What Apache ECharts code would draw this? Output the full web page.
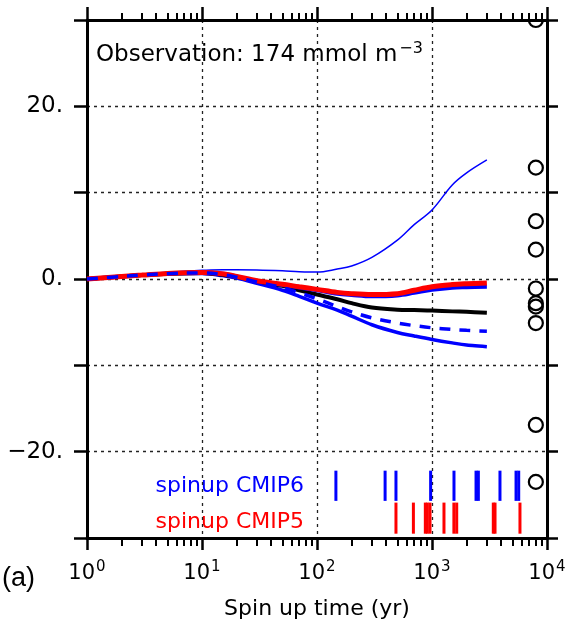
<!DOCTYPE html>
<html>
<head>
<meta charset="utf-8">
<script src="https://cdn.jsdelivr.net/npm/echarts@6/dist/echarts.min.js"></script>
<style>html,body{margin:0;padding:0;background:#fff}#c{width:569px;height:619px}</style>
</head>
<body>
<div id="c"></div>
<script>
// ---- data ----
const years = [1, 2, 3, 5, 10, 15, 20, 30, 50, 70, 100, 150, 200, 300, 500, 700, 1000, 1500, 2000, 3000];
const thinBlue   = [0, 0.3, 0.5, 0.75, 1.0, 1.07, 1.08, 1.05, 0.95, 0.85, 0.8, 1.15, 1.5, 2.5, 4.5, 6.3, 8.0, 10.9, 12.3, 13.8];
const redThick   = [0, 0.3, 0.45, 0.65, 0.75, 0.6, 0.3, -0.2, -0.6, -0.9, -1.2, -1.55, -1.7, -1.8, -1.7, -1.3, -0.9, -0.65, -0.55, -0.45];
const blueUpper  = [0, 0.3, 0.45, 0.65, 0.75, 0.6, 0.3, -0.25, -0.7, -1.0, -1.3, -1.7, -1.85, -2.0, -1.9, -1.6, -1.25, -1.0, -0.95, -0.9];
const blackMean  = [0, 0.3, 0.45, 0.62, 0.7, 0.5, 0.25, -0.25, -0.8, -1.3, -1.8, -2.35, -2.8, -3.3, -3.55, -3.6, -3.65, -3.75, -3.8, -3.9];
const blueDashed = [0, 0.3, 0.45, 0.62, 0.7, 0.5, 0.2, -0.35, -1.0, -1.6, -2.3, -3.2, -3.8, -4.5, -5.1, -5.4, -5.65, -5.85, -5.95, -6.05];
const blueLower  = [0, 0.3, 0.45, 0.6, 0.65, 0.4, 0.1, -0.5, -1.3, -2.0, -2.8, -3.6, -4.3, -5.3, -6.2, -6.6, -7.0, -7.4, -7.65, -7.85];
const obsYear = 8000;
const obsValues = [30, 12.9, 6.7, 3.4, -1.1, -2.8, -3.2, -5.1, -16.9, -23.5];
const spinupCMIP6 = [146, 391, 486, 973, 1553, 2415, 2530, 3900, 5380, 5675];
const spinupCMIP5 = [486, 689, 875, 911, 961, 1271, 1550, 1640, 3412, 3532, 5820];
const bandCMIP6 = [-22.2, -25.7];
const bandCMIP5 = [-25.9, -29.5];
const yTickLabels = { '20': '20.', '0': '0.', '-20': '\u221220.' };
const Y_MIN = -30, Y_MAX = 30;

const pairs = arr => years.map((x, i) => [x, arr[i]]);
const FONT = 'DejaVu Sans';

function bars(list, band, color) {
  return {
    type: 'custom', xAxisIndex: 0, yAxisIndex: 0, z: 5,
    data: list.map(v => [v]),
    renderItem: (params, api) => {
      const x = api.value(0);
      const p0 = api.coord([x, band[0]]);
      const p1 = api.coord([x, band[1]]);
      return { type: 'rect', shape: { x: p0[0] - 1.5, y: p0[1], width: 3, height: p1[1] - p0[1] },
               style: { fill: color } };
    }
  };
}

function logAxis(pos, opts) {
  return Object.assign({
    type: 'log', logBase: 10, min: 1, max: 10000, position: pos,
    axisLine: { show: true, onZero: false, lineStyle: { color: '#000', width: 3 } },
    axisLabel: { show: false }, splitLine: { show: false }
  }, opts);
}

const chart = echarts.init(document.getElementById('c'), null, { renderer: 'canvas' });
chart.setOption({
  animation: false,
  backgroundColor: '#fff',
  grid: { left: 87, right: 22, top: 20, bottom: 81, containLabel: false, outerBoundsMode: 'none' },
  xAxis: [
    logAxis('bottom', {
      axisTick: { show: true, length: 12, lineStyle: { color: '#000', width: 2.5 } },
      minorTick: { show: true, splitNumber: 9, length: 8, lineStyle: { color: '#000', width: 2 } },
      axisLabel: {
        show: true, margin: 22,
        formatter: v => '{b|10}{s|' + Math.round(Math.log10(v)) + '}',
        rich: {
          b: { fontFamily: FONT, fontSize: 21, color: '#000' },
          s: { fontFamily: FONT, fontSize: 15, color: '#000', padding: [0, 0, 13, 1] }
        }
      },
      splitLine: { show: true, lineStyle: { color: '#222', width: 1.3, type: [3, 4] } },
      name: 'Spin up time (yr)', nameLocation: 'middle', nameGap: 60,
      nameTextStyle: { fontFamily: FONT, fontSize: 22, color: '#000' }
    }),
    logAxis('top', {
      axisTick: { show: true, length: 13, lineStyle: { color: '#000', width: 2.5 } },
      minorTick: { show: true, splitNumber: 9, length: 7, lineStyle: { color: '#000', width: 2 } }
    })
  ],
  yAxis: [
    {
      type: 'value', min: Y_MIN, max: Y_MAX, interval: 10, position: 'left',
      axisLine: { show: true, onZero: false, lineStyle: { color: '#000', width: 3 } },
      axisTick: { show: true, length: 13, lineStyle: { color: '#000', width: 2.5 } },
      axisLabel: { margin: 24, fontFamily: FONT, fontSize: 23, color: '#000',
                   formatter: v => yTickLabels[String(v)] || '' },
      splitLine: { show: true, lineStyle: { color: '#222', width: 1.3, type: [3, 4] } }
    },
    {
      type: 'value', min: Y_MIN, max: Y_MAX, interval: 10, position: 'right',
      axisLine: { show: true, onZero: false, lineStyle: { color: '#000', width: 3 } },
      axisTick: { show: true, length: 11, lineStyle: { color: '#000', width: 2.5 } },
      axisLabel: { show: false }, splitLine: { show: false }
    }
  ],
  title: {
    left: 91, top: 36,
    text: '{a|Observation: 174 mmol m}{s|\u22123}',
    textStyle: { rich: {
      a: { fontFamily: FONT, fontSize: 23, fontWeight: 'normal', color: '#000' },
      s: { fontFamily: FONT, fontSize: 16, fontWeight: 'normal', color: '#000', padding: [0, 0, 13, 2] }
    } }
  },
  graphic: [
    { type: 'text', right: 569 - 304, top: 475, style: { text: 'spinup CMIP6', fill: '#0000ff', font: '22px "DejaVu Sans"' } },
    { type: 'text', right: 569 - 304, top: 511, style: { text: 'spinup CMIP5', fill: '#ff0000', font: '22px "DejaVu Sans"' } },
    { type: 'text', left: 2, top: 565, style: { text: '(a)', fill: '#000', font: '27px "Liberation Sans"' } }
  ],
  series: [
    { type: 'line', data: pairs(thinBlue), smooth: 0.35, showSymbol: false, z: 2,
      lineStyle: { color: '#0000ff', width: 1.5 } },
    { type: 'line', data: pairs(blueLower), smooth: 0.35, showSymbol: false, z: 3,
      lineStyle: { color: '#0000ff', width: 3.5 } },
    { type: 'line', data: pairs(blackMean), smooth: 0.35, showSymbol: false, z: 3,
      lineStyle: { color: '#000', width: 4 } },
    { type: 'line', data: pairs(blueUpper), smooth: 0.35, showSymbol: false, z: 3,
      lineStyle: { color: '#0000ff', width: 4 } },
    { type: 'line', data: pairs(redThick), smooth: 0.35, showSymbol: false, z: 4,
      lineStyle: { color: '#ff0000', width: 5 } },
    { type: 'line', data: pairs(blueDashed), smooth: 0.35, showSymbol: false, z: 5,
      lineStyle: { color: '#0000ff', width: 3.5, type: [11, 9] } },
    bars(spinupCMIP6, bandCMIP6, '#0000ff'),
    bars(spinupCMIP5, bandCMIP5, '#ff0000'),
    {
      type: 'custom', xAxisIndex: 0, yAxisIndex: 0, clip: true, z: 6,
      data: obsValues.map(v => [obsYear, v]),
      renderItem: (params, api) => {
        const p = api.coord([api.value(0), api.value(1)]);
        return { type: 'circle', shape: { cx: p[0], cy: p[1], r: 7 },
                 style: { fill: 'none', stroke: '#000', lineWidth: 2.2 } };
      }
    }
  ]
});
</script>
</body>
</html>
